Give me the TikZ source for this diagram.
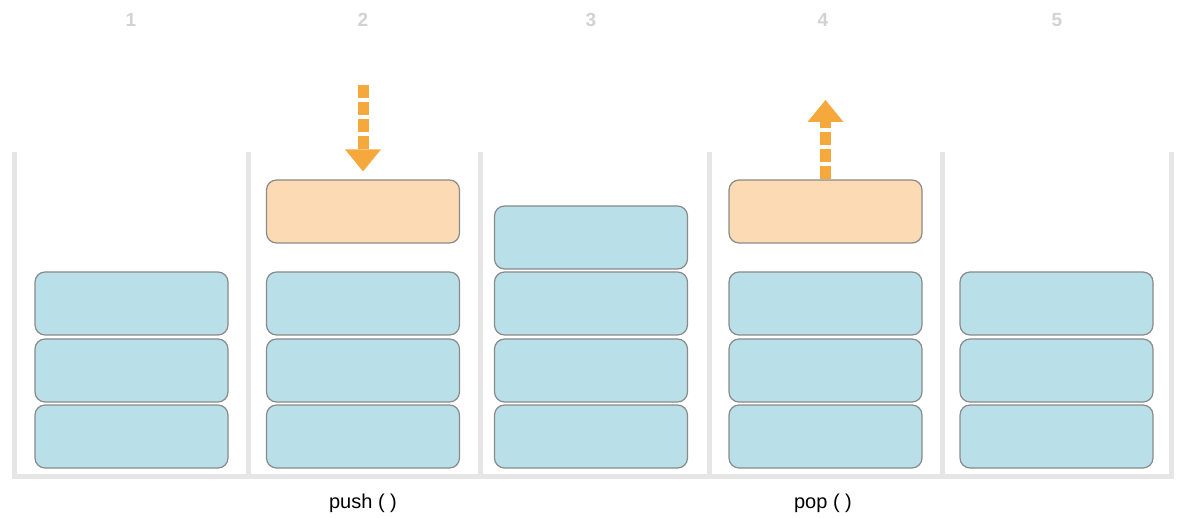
\documentclass[tikz,border=0pt]{standalone}
\usepackage{fontspec}
\setmainfont{Liberation Sans}
\usepackage{tikz}
\usetikzlibrary{arrows.meta}
\definecolor{stackblue}{HTML}{B9DFE8}
\definecolor{stackorange}{HTML}{FCDAB4}
\definecolor{arroworange}{HTML}{F5A83C}
\definecolor{wallgray}{HTML}{E6E6E6}
\definecolor{edgegray}{HTML}{8A8A8A}
\definecolor{numgray}{HTML}{D2D2D2}
\tikzset{
  item/.style={shape=rectangle,rounded corners=10pt,draw=edgegray,line width=1.2pt,
    minimum width=193pt,minimum height=63pt,inner sep=0pt},
  olditem/.style={item,fill=stackblue},
  newitem/.style={item,fill=stackorange},
  wall/.style={draw=wallgray,line width=5pt},
  colnum/.style={text=numgray,font=\fontsize{19}{22}\selectfont\bfseries},
  opname/.style={font=\fontsize{20}{24}\selectfont},
  move/.style={draw=arroworange,line width=11pt,dash pattern=on 13pt off 4pt,
    -{Triangle[width=36pt,length=22pt,line width=0pt]}}
}

\begin{document}
\begin{tikzpicture}[x=1pt,y=-1pt]
    \useasboundingbox (0,0) rectangle (1183,518);
    % the five stack frames
    \draw[wall] (14,152) -- (14,476) -- (1171,476) -- (1171,152);
    \draw[wall] (248,152) -- (248,476)
                (480,152) -- (480,476)
                (709,152) -- (709,476)
                (942,152) -- (942,476);
    \path (131,20) node [colnum] (n1) {1}
          (363,20) node [colnum] (n2) {2}
          (591,20) node [colnum] (n3) {3}
          (823,20) node [colnum] (n4) {4}
          (1057,20) node [colnum] (n5) {5};
    % stack 1
    \path (131.5,303.5) node [olditem] (s1c) {}
          (131.5,370.5) node [olditem] (s1b) {}
          (131.5,436.5) node [olditem] (s1a) {};
    % stack 2
    \path (363,211.5) node [newitem] (push) {}
          (363,303.5) node [olditem] (s2c) {}
          (363,370.5) node [olditem] (s2b) {}
          (363,436.5) node [olditem] (s2a) {};
    % stack 3
    \path (591,237.5) node [olditem] (s3d) {}
          (591,303.5) node [olditem] (s3c) {}
          (591,370.5) node [olditem] (s3b) {}
          (591,436.5) node [olditem] (s3a) {};
    % stack 4
    \path (825.5,211.5) node [newitem] (pop) {}
          (825.5,303.5) node [olditem] (s4c) {}
          (825.5,370.5) node [olditem] (s4b) {}
          (825.5,436.5) node [olditem] (s4a) {};
    % stack 5
    \path (1056.5,303.5) node [olditem] (s5c) {}
          (1056.5,370.5) node [olditem] (s5b) {}
          (1056.5,436.5) node [olditem] (s5a) {};
    % operations
    \coordinate (pushfrom) at (363,85);
    \coordinate (popto) at (825.5,100);
    \draw[move,shorten >=8pt] (pushfrom) -- (push.north);
    \draw[move] (pop.north) -- (popto);
    \path (363,503) node [opname] (pushlbl) {push ( )}
          (823,503) node [opname] (poplbl) {pop ( )};
\end{tikzpicture}
\end{document}
